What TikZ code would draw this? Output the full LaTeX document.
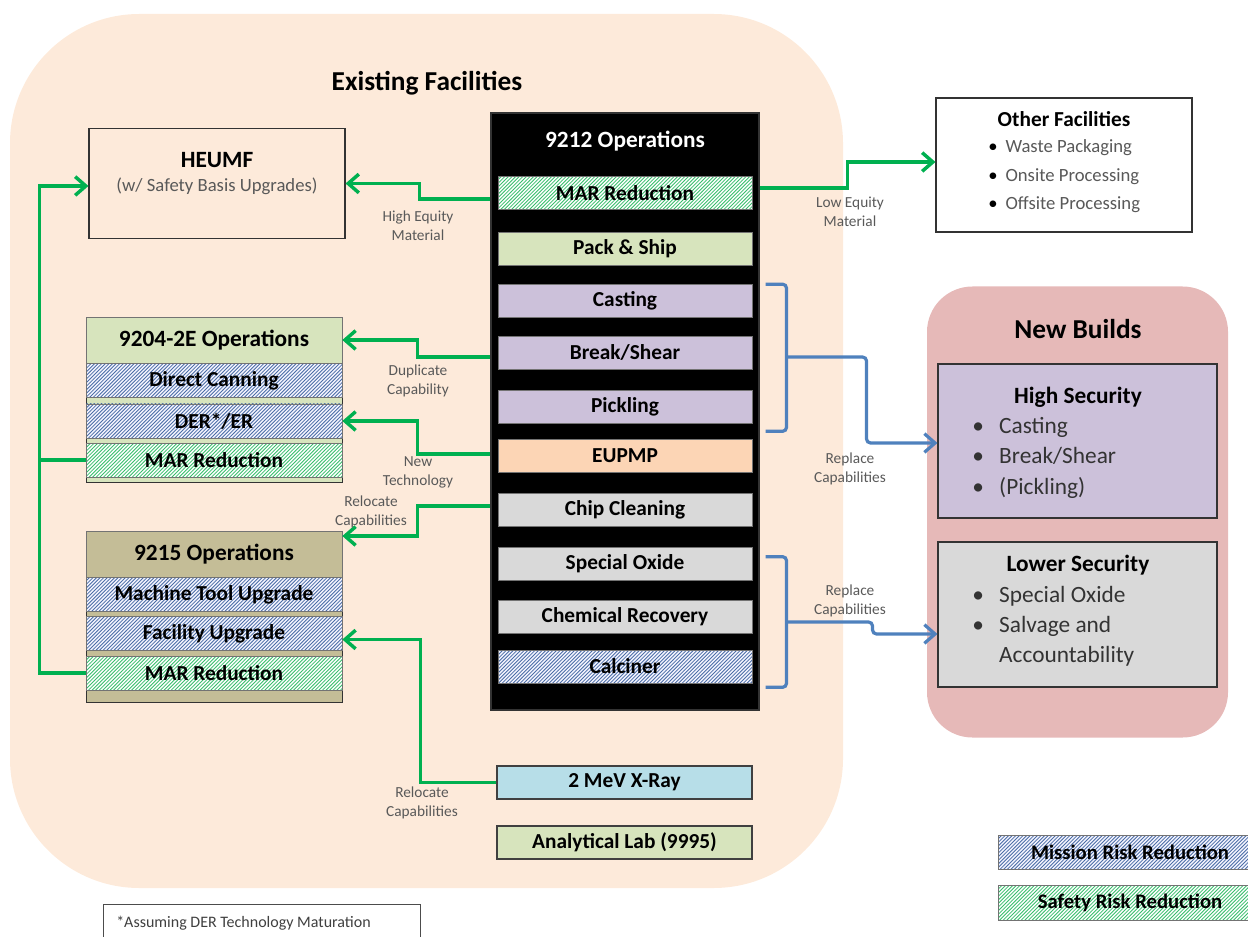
\documentclass[tikz,border=0pt]{standalone}
\usepackage{fontspec}
\setmainfont{Carlito}
\usepackage{tikz}
\usetikzlibrary{arrows.meta,patterns,calc}

\definecolor{peach}{HTML}{FDEADA}
\definecolor{lgreen}{HTML}{D7E4BD}
\definecolor{lilac}{HTML}{CCC1DA}
\definecolor{apricot}{HTML}{FCD5B5}
\definecolor{lgrey}{HTML}{D9D9D9}
\definecolor{lblue}{HTML}{B7DEE8}
\definecolor{khaki}{HTML}{C4BD97}
\definecolor{rose}{HTML}{E6B9B8}
\definecolor{arrowgreen}{HTML}{00B050}
\definecolor{bracketblue}{HTML}{4F81BD}
\definecolor{hatchblue}{HTML}{4A6DA6}
\definecolor{hatchgreen}{HTML}{38BE6C}
\definecolor{labelgrey}{HTML}{595959}

\pgfdeclarepatternformonly{hatch}{\pgfqpoint{-1pt}{-1pt}}{\pgfqpoint{3.7pt}{3.7pt}}{\pgfqpoint{2.7pt}{2.7pt}}{%
  \pgfsetlinewidth{0.6pt}%
  \pgfpathmoveto{\pgfqpoint{0pt}{0pt}}%
  \pgfpathlineto{\pgfqpoint{2.8pt}{2.8pt}}%
  \pgfusepath{stroke}}

\tikzstyle{region}=[inner sep=0pt, draw=none]
\tikzstyle{heading}=[font=\fontsize{20.5}{24}\selectfont\bfseries]
\tikzstyle{headfont}=[font=\fontsize{17.5}{21}\selectfont\bfseries]
\tikzstyle{stage}=[draw=black!55, line width=0.5pt, minimum width=190.5pt, minimum height=24.75pt, inner sep=0pt, font=\fontsize{16}{19}\selectfont\bfseries]
\tikzstyle{greenstage}=[stage, fill=lgreen]
\tikzstyle{lilacstage}=[stage, fill=lilac]
\tikzstyle{apricotstage}=[stage, fill=apricot]
\tikzstyle{greystage}=[stage, fill=lgrey]
\tikzstyle{bluestage}=[stage, fill=lblue, draw=black!75, line width=0.8pt]
\tikzstyle{mission}=[stage, preaction={fill=blue!4}, pattern=hatch, pattern color=hatchblue]
\tikzstyle{safety}=[stage, preaction={fill=white}, pattern=hatch, pattern color=hatchgreen]
\tikzstyle{wide}=[minimum width=192pt, minimum height=25.5pt]
\tikzstyle{block}=[draw=black!80, line width=0.8pt, inner sep=0pt]
\tikzstyle{flow}=[draw=arrowgreen, line width=2.6pt, -{Straight Barb[length=8pt,width=14pt]}]
\tikzstyle{plainflow}=[draw=arrowgreen, line width=2.6pt]
\tikzstyle{bracket}=[draw=bracketblue, line width=2.4pt, rounded corners=3pt]
\tikzstyle{bracketflow}=[bracket, -{Straight Barb[length=8pt,width=14pt]}]
\tikzstyle{note}=[font=\fontsize{11.5}{14.25}\selectfont, text=labelgrey, align=center, inner sep=0pt]
\tikzstyle{listtext}=[inner sep=0pt, anchor=west, text=black!80]

\begin{document}
\begin{tikzpicture}[x=0.75pt, y=-0.75pt]
    \useasboundingbox (0,0) rectangle (1248,937);

    % the two regions
    \node[region, fill=peach, rounded corners=97pt, minimum width=624.75pt, minimum height=655.5pt] (existing) at (426.5,451) {};
    \node[region, fill=rose, rounded corners=34pt, minimum width=225.75pt, minimum height=338.25pt] (newbuilds) at (1077.5,512) {};
    \node[heading] (exttitle) at (427,83) {Existing Facilities};
    \node[heading] (newtitle) at (1078,329) {New Builds};

    % 9212 column
    \node[block, fill=black, minimum width=201pt, minimum height=447.75pt] (ops) at (625,411.5) {};
    \node[headfont, text=white] (opstitle) at (625,141) {9212 Operations};
    \foreach \y/\name/\kind/\txt in {193/mar12/safety/MAR Reduction, 248.5/pack/greenstage/Pack \& Ship,
        301/cast/lilacstage/Casting, 352.5/brk/lilacstage/{Break/Shear}, 406.5/pick/lilacstage/Pickling,
        456/eupmp/apricotstage/EUPMP, 510/chip/greystage/Chip Cleaning, 564/spox/greystage/Special Oxide,
        617/chem/greystage/Chemical Recovery, 666.5/calciner/mission/Calciner}
        \node[\kind] (\name) at (625,\y) {\txt};
    \node[bluestage, minimum width=191.25pt] (xray) at (624.5,782.5) {2 MeV X-Ray};
    \node[greenstage, draw=black!75, line width=0.8pt, minimum width=191.25pt] (lab) at (624.5,842.5) {Analytical Lab (9995)};

    % HEUMF
    \node[block, minimum width=192pt, minimum height=82.5pt] (heumf) at (217,183.5) {};
    \node[headfont] (heumfname) at (217,160) {HEUMF};
    \node[font=\fontsize{14}{17}\selectfont, text=labelgrey] (heumfnote) at (217,186) {(w/ Safety Basis Upgrades)};

    % 9204-2E and 9215 stacks
    \node[greenstage, draw=black!80, minimum width=192pt, minimum height=123.75pt] (ops04) at (214,399.5) {};
    \node[greenstage, headfont, minimum width=192pt, minimum height=34.5pt] (hdr04) at (214,340) {9204-2E Operations};
    \node[stage, fill=khaki, draw=black!80, minimum width=192pt, minimum height=128.25pt] (ops15) at (214,616.5) {};
    \node[stage, fill=khaki, headfont, minimum width=192pt, minimum height=34.5pt] (hdr15) at (214,554) {9215 Operations};
    \foreach \y/\name/\kind/\txt in {380.5/dcan/mission/Direct Canning, 421/der/mission/{DER*/ER},
        460/mar04/safety/MAR Reduction, 594.5/mtool/mission/Machine Tool Upgrade,
        633.5/fac/mission/Facility Upgrade, 673/mar15/safety/MAR Reduction}
        \node[\kind, wide] (\name) at (214,\y) {\txt};

    % other facilities
    \node[block, fill=white, minimum width=192pt, minimum height=100.5pt] (other) at (1064,165) {};
    \node[font=\fontsize{16}{19}\selectfont\bfseries] (othertitle) at (1064,119) {Other Facilities};
    \node[listtext, text=labelgrey, font=\fontsize{14}{21.4}\selectfont] (otherlist) at (988,175.5)
        {\begin{tabular}{@{}l@{\hspace{6pt}}l@{}}\textcolor{black}{\textbullet}&Waste Packaging\\\textcolor{black}{\textbullet}&Onsite Processing\\\textcolor{black}{\textbullet}&Offsite Processing\end{tabular}};

    % new builds
    \node[block, fill=lilac, minimum width=209.25pt, minimum height=115.5pt] (high) at (1077.5,441) {};
    \node[headfont] (hightitle) at (1078,397) {High Security};
    \node[listtext, font=\fontsize{17.5}{22.9}\selectfont] (highlist) at (972,457.5)
        {\begin{tabular}{@{}l@{\hspace{11.5pt}}l@{}}\textbullet&Casting\\\textbullet&Break/Shear\\\textbullet&(Pickling)\end{tabular}};
    \node[block, fill=lgrey, minimum width=209.25pt, minimum height=108.75pt] (low) at (1077.5,614.5) {};
    \node[headfont] (lowtitle) at (1078,565) {Lower Security};
    \node[listtext, font=\fontsize{17.5}{22.5}\selectfont] (lowlist) at (972,626)
        {\begin{tabular}{@{}l@{\hspace{11.5pt}}l@{}}\textbullet&Special Oxide\\\textbullet&Salvage and\\&Accountability\end{tabular}};

    % legend and footnote
    \node[mission, font=\fontsize{15.5}{18}\selectfont\bfseries, minimum width=198pt, minimum height=25.5pt] (missionkey) at (1130,852) {Mission Risk Reduction};
    \node[safety, font=\fontsize{15.5}{18}\selectfont\bfseries, minimum width=198pt, minimum height=26.25pt] (safetykey) at (1130,902.5) {Safety Risk Reduction};
    \node[block, draw=black!70, fill=white, minimum width=237.75pt, minimum height=37.5pt, anchor=north west] (footnote) at (103,904) {};
    \node[anchor=west, inner sep=0pt, font=\fontsize{12}{14}\selectfont, text=black!75] (foottext) at (116,923) {*Assuming DER Technology Maturation};

    % green flows
    \draw[flow] ($(ops.west |- mar12)+(0,6)$) -- ++(-71,0) |- (heumf.east);
    \draw[flow] ($(ops.west |- brk)+(0,4.5)$) -- ++(-73,0) |- (hdr04.east);
    \draw[flow] ($(ops.west |- eupmp)+(0,-2)$) -- ++(-73,0) |- (der.east);
    \draw[flow] ($(ops.west |- chip)+(0,-4)$) -- ++(-73,0) |- ($(hdr15.east)+(0,-18)$);
    \draw[flow] (xray.west) -- ++(-76,0) |- ($(fac.east)+(0,6)$);
    \draw[flow] (mar15.west) -- ++(-46,0) |- ($(heumf.west)+(0,2.5)$);
    \draw[plainflow] (mar04.west) -- ++(-46,0);
    \draw[flow] ($(ops.east |- mar12)+(0,-5)$) -- ++(88,0) |- ($(other.west)+(0,-3)$);

    % blue brackets
    \draw[bracket] ($(ops.east |- cast.north)+(6,0)$) -- ++(21,0) |- ($(ops.east |- pick.south)+(6,8)$);
    \coordinate (br1) at ($(ops.east |- brk)+(27,4.5)$);
    \draw[bracketflow] (br1) -- ++(80,0) |- ($(high.west)+(0,2)$);
    \draw[bracket] ($(ops.east |- spox.north)+(6,9.5)$) -- ++(21,0) |- ($(ops.east |- calciner.south)+(6,4)$);
    \coordinate (br2) at ($(ops.east |- chem)+(27,5)$);
    \draw[bracketflow] (br2) -- ++(86,0) |- ($(low.west)+(0,19.5)$);

    % connector labels
    \node[note] (higheq) at (418,225.5) {High Equity\\Material};
    \node[note] (dupcap) at (418,381) {Duplicate\\Capability};
    \node[note] (newtech) at (418,472.5) {New\\Technology};
    \node[note] (reloc1) at (371,512) {Relocate\\Capabilities};
    \node[note] (reloc2) at (422,803) {Relocate\\Capabilities};
    \node[note] (loweq) at (850,211.5) {Low Equity\\Material};
    \node[note] (repl1) at (850,468.5) {Replace\\Capabilities};
    \node[note] (repl2) at (850,601) {Replace\\Capabilities};

\end{tikzpicture}
\end{document}
